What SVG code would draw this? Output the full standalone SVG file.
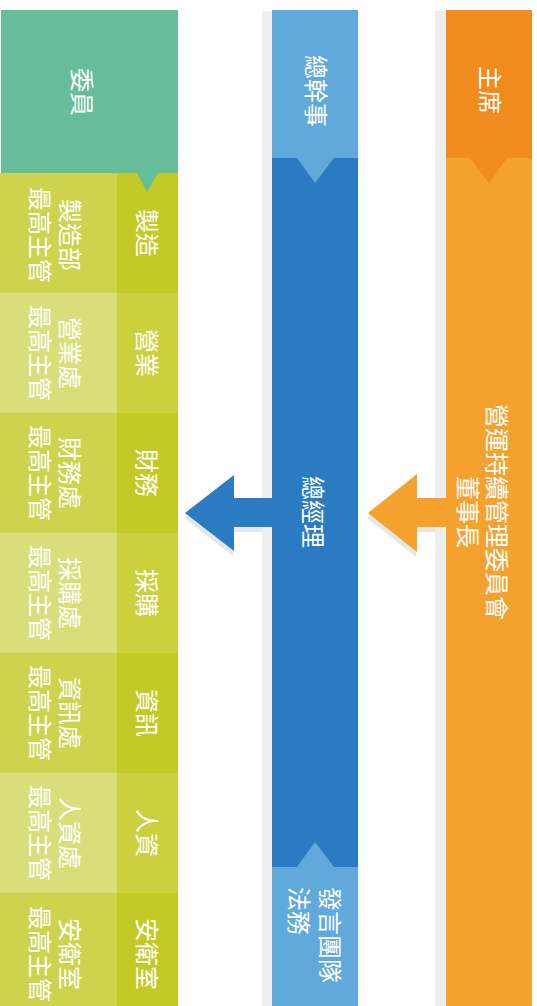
<svg xmlns="http://www.w3.org/2000/svg" width="537" height="1006" viewBox="0 0 537 1006">
<style>
.t{font-family:"Noto Sans CJK TC","Noto Sans CJK SC",sans-serif;font-size:24px;fill:#fff;text-anchor:middle;dominant-baseline:central}
.ts{text-anchor:start}
.gray{fill:#eeeeee}
.shadow{fill:#e6e6e6}
.ldark{fill:#cdd34c}
.llight{fill:#d9de7b}
.rdark{fill:#c4ca25}
.rlight{fill:#cbd13d}
</style>
<rect width="537" height="1006" fill="#ffffff"/>
<rect class="gray" x="262" y="11" width="12" height="995"/>
<rect class="gray" x="435" y="11" width="13" height="995"/>
<g id="connectors">
<path class="shadow" d="M184,518 L233,480 L233,503 L262,503 L262,532 L233,532 L233,556 Z"/>
<path fill="#2a7bc1" d="M185,513 L234,475 L234,498 L274,498 L274,527 L234,527 L234,551 Z"/>
<path class="shadow" d="M367,518 L416,479 L416,503 L435,503 L435,532 L416,532 L416,557 Z"/>
<path fill="#f4a22d" d="M368,513 L417,474 L417,498 L448,498 L448,527 L417,527 L417,552 Z"/>
</g>
<g id="chair">
<rect x="446" y="158" width="86" height="848" fill="#f4a22d"/>
<rect x="446" y="10" width="86" height="148" fill="#f08b1d"/>
<polygon points="470,158 507,158 489,183" fill="#f08b1d"/>
<text class="t" transform="translate(491,90) rotate(90)">主席</text>
<text class="t" transform="translate(484,512) rotate(90)"><tspan x="0" y="-14.5">營運持續管理委員會</tspan><tspan x="0" y="14.5">董事長</tspan></text>
</g>
<g id="secretary">
<rect x="272" y="158" width="86" height="709" fill="#2a7bc1"/>
<rect x="272" y="10" width="86" height="148" fill="#62a9db"/>
<polygon points="297,158 334,158 315,183" fill="#62a9db"/>
<rect x="272" y="867" width="86" height="139" fill="#62a9db"/>
<polygon points="297,867 334,867 315,842" fill="#62a9db"/>
<text class="t" transform="translate(317,91) rotate(90)">總幹事</text>
<text class="t" transform="translate(314,512) rotate(90)">總經理</text>
<text class="t ts" transform="rotate(90)"><tspan x="887" y="-332">發言團隊</tspan><tspan x="887" y="-301">法務</tspan></text>
</g>
<g id="committee">
<rect x="1" y="10" width="177" height="163" fill="#66bd97"/>
<text class="t" transform="translate(83,92) rotate(90)">委員</text>
</g>
<g id="row-manufacturing">
<rect class="ldark" x="0" y="173" width="117" height="120"/>
<rect class="rdark" x="117" y="173" width="61" height="120"/>
<text class="t" transform="translate(148,233) rotate(90)">製造</text>
<text class="t" transform="translate(56.5,235) rotate(90)"><tspan x="0" y="-15">製造部</tspan><tspan x="0" y="15">最高主管</tspan></text>
</g>
<polygon points="137,173 158,173 147,192" fill="#66bd97"/>
<g id="row-sales">
<rect class="llight" x="0" y="293" width="117" height="120"/>
<rect class="rlight" x="117" y="293" width="61" height="120"/>
<text class="t" transform="translate(148,353) rotate(90)">營業</text>
<text class="t" transform="translate(56.5,353) rotate(90)"><tspan x="0" y="-15">營業處</tspan><tspan x="0" y="15">最高主管</tspan></text>
</g>
<g id="row-finance">
<rect class="ldark" x="0" y="413" width="117" height="120"/>
<rect class="rdark" x="117" y="413" width="61" height="120"/>
<text class="t" transform="translate(148,473) rotate(90)">財務</text>
<text class="t" transform="translate(56.5,473) rotate(90)"><tspan x="0" y="-15">財務處</tspan><tspan x="0" y="15">最高主管</tspan></text>
</g>
<g id="row-purchasing">
<rect class="llight" x="0" y="533" width="117" height="120"/>
<rect class="rlight" x="117" y="533" width="61" height="120"/>
<text class="t" transform="translate(148,593) rotate(90)">採購</text>
<text class="t" transform="translate(56.5,593) rotate(90)"><tspan x="0" y="-15">採購處</tspan><tspan x="0" y="15">最高主管</tspan></text>
</g>
<g id="row-it">
<rect class="ldark" x="0" y="653" width="117" height="120"/>
<rect class="rdark" x="117" y="653" width="61" height="120"/>
<text class="t" transform="translate(148,713) rotate(90)">資訊</text>
<text class="t" transform="translate(56.5,713) rotate(90)"><tspan x="0" y="-15">資訊處</tspan><tspan x="0" y="15">最高主管</tspan></text>
</g>
<g id="row-hr">
<rect class="llight" x="0" y="773" width="117" height="120"/>
<rect class="rlight" x="117" y="773" width="61" height="120"/>
<text class="t" transform="translate(148,833) rotate(90)">人資</text>
<text class="t" transform="translate(56.5,833) rotate(90)"><tspan x="0" y="-15">人資處</tspan><tspan x="0" y="15">最高主管</tspan></text>
</g>
<g id="row-safety">
<rect class="ldark" x="0" y="893" width="117" height="113"/>
<rect class="rdark" x="117" y="893" width="61" height="113"/>
<text class="t" transform="translate(148,954) rotate(90)">安衛室</text>
<text class="t" transform="translate(56.5,954) rotate(90)"><tspan x="0" y="-15">安衛室</tspan><tspan x="0" y="15">最高主管</tspan></text>
</g>
</svg>
